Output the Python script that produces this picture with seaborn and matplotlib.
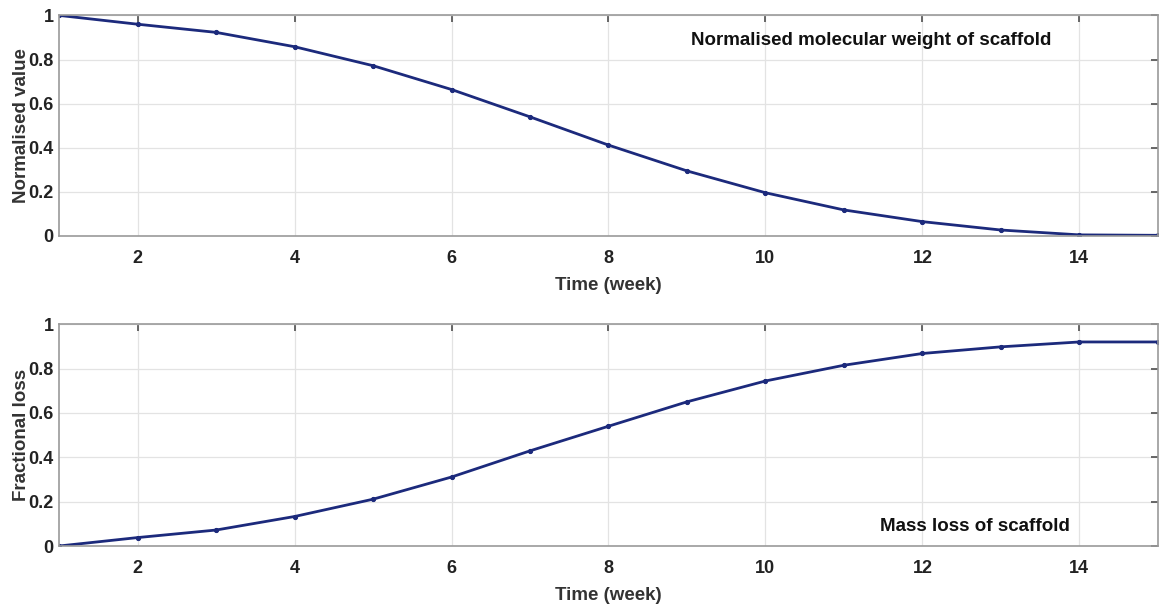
import numpy as np
import pandas as pd
import matplotlib
matplotlib.use("Agg")
import matplotlib.pyplot as plt
import seaborn as sns

weeks = [1, 2, 3, 4, 5, 6, 7, 8, 9, 10, 11, 12, 13, 14, 15]
mol_weight = [1.0, 0.96, 0.923, 0.858, 0.772, 0.664, 0.54, 0.412, 0.295, 0.196, 0.118, 0.065, 0.027, 0.005, 0.003]
mass_loss = [0.0, 0.038, 0.072, 0.133, 0.211, 0.311, 0.429, 0.54, 0.65, 0.744, 0.815, 0.868, 0.898, 0.92, 0.92]
xticks = [2, 4, 6, 8, 10, 12, 14]
yticks = [0, 0.2, 0.4, 0.6, 0.8, 1]
ytick_labels = ["0", "0.2", "0.4", "0.6", "0.8", "1"]

sns.set_theme(style="whitegrid")
plt.rcParams['font.family'] = ['Liberation Sans', 'DejaVu Sans']
plt.rcParams['font.weight'] = 'bold'

line_color = "#1c2a7c"
df = pd.DataFrame({"week": weeks, "mw": mol_weight, "ml": mass_loss})

fig = plt.figure(figsize=(11.59, 6.06), dpi=100)
ax1 = fig.add_axes([0.051, 0.6106, 0.948, 0.364])
ax2 = fig.add_axes([0.051, 0.099, 0.948, 0.366])

def style(ax, ylabel):
    ax.set_xlim(1, 15)
    ax.set_ylim(0, 1)
    ax.set_xticks(xticks)
    ax.set_xticklabels([str(t) for t in xticks])
    ax.set_yticks(yticks)
    ax.set_yticklabels(ytick_labels)
    ax.grid(True, color="#e3e3e3", linewidth=0.9)
    for s in ax.spines.values():
        s.set_color("#9a9a9a")
        s.set_linewidth(1.2)
        s.set_visible(True)
    ax.tick_params(axis='both', direction='in', length=5, color="#555555",
                   labelsize=13, labelcolor="#222222", top=True, right=True)
    ax.tick_params(axis='x', pad=10)
    ax.tick_params(axis='y', pad=4)
    for lab in ax.get_xticklabels() + ax.get_yticklabels():
        lab.set_fontweight('bold')
    ax.set_xlabel("Time (week)", fontsize=13.5, fontweight='bold', color="#333333", labelpad=7)
    ax.set_ylabel(ylabel, fontsize=13.5, fontweight='bold', color="#333333", labelpad=-1)

sns.lineplot(data=df, x="week", y="mw", ax=ax1, color=line_color, linewidth=2,
             marker='.', markersize=6, markeredgecolor=line_color)
sns.lineplot(data=df, x="week", y="ml", ax=ax2, color=line_color, linewidth=2,
             marker='.', markersize=6, markeredgecolor=line_color)

style(ax1, "Normalised value")
style(ax2, "Fractional loss")

ax1.text(0.9035, 0.885, "Normalised molecular weight of scaffold", transform=ax1.transAxes,
         ha='right', va='center', fontsize=13.5, fontweight='bold', color="#111111")
ax2.text(0.92, 0.09, "Mass loss of scaffold", transform=ax2.transAxes,
         ha='right', va='center', fontsize=13.5, fontweight='bold', color="#111111")

fig.savefig("out.png", dpi=100)
